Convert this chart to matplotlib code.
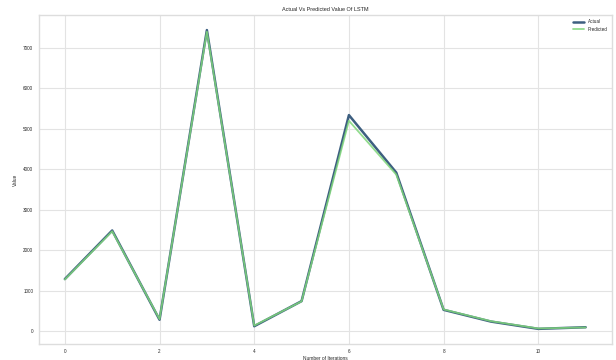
import matplotlib
matplotlib.use("Agg")
import matplotlib.pyplot as plt

iterations = list(range(12))
actual = [1290, 2490, 285, 7440, 125, 745, 5340, 3920, 530, 240, 60, 100]
predicted = [1280, 2470, 300, 7400, 140, 740, 5200, 3870, 540, 250, 70, 95]

plt.style.use("seaborn-v0_8-whitegrid")
fig, ax = plt.subplots(figsize=(6.16, 3.6), dpi=100)
fig.subplots_adjust(left=0.063, right=0.993, top=0.958, bottom=0.045)

ax.plot(iterations, actual, color="#3d5f80", lw=1.8, label="Actual")
ax.plot(iterations, predicted, color="#7fd67a", lw=1.3, label="Predicted", alpha=0.85)

ax.set_title("Actual Vs Predicted Value Of LSTM", fontsize=4, pad=3)
ax.set_xlabel("Number of Iterations", fontsize=3.5, labelpad=1)
ax.set_ylabel("Value", fontsize=3.5, labelpad=4)
ax.tick_params(labelsize=3.3, pad=4)
leg = ax.legend(loc="upper right", fontsize=3.3, frameon=False, handlelength=2.5)
for s in ax.spines.values():
    s.set_visible(True)
    s.set_color("#dddddd")
    s.set_linewidth(1.0)
ax.grid(color="#e3e3e3", lw=0.8)

fig.savefig("out.png", dpi=100)
